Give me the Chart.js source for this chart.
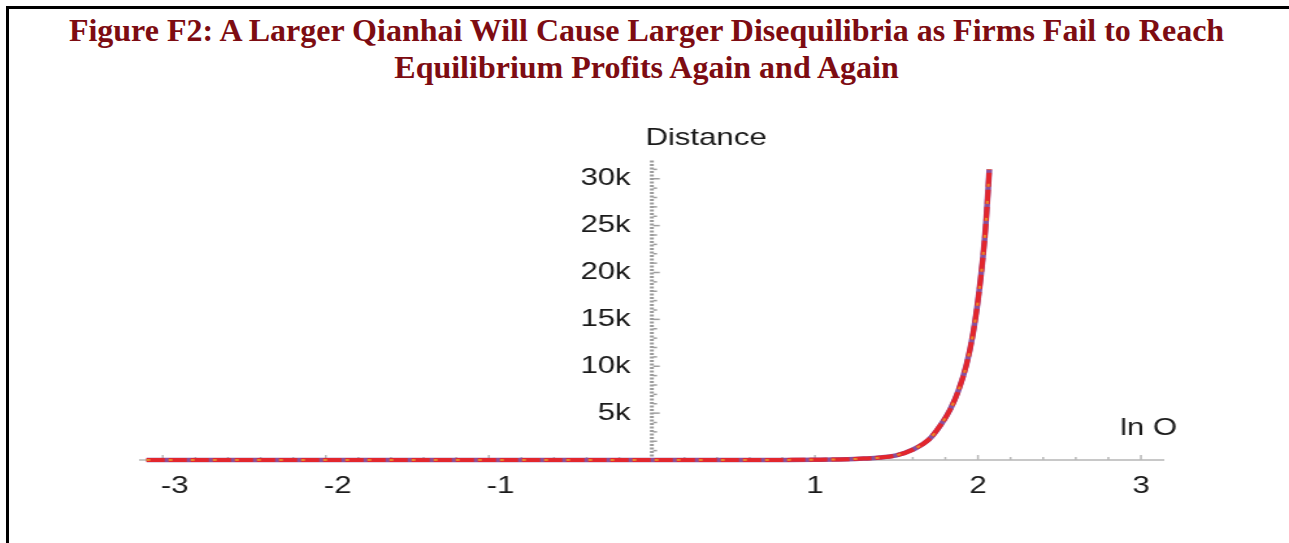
<!DOCTYPE html>
<html>
<head>
<meta charset="utf-8">
<script src="https://cdn.jsdelivr.net/npm/chart.js@4/dist/chart.umd.min.js"></script>
<style>
    html, body { margin: 0; padding: 0; background: #fff; width: 1289px; height: 543px; overflow: hidden; }
    #frame { position: absolute; left: 6px; top: 6px; right: -10px; bottom: -10px; border-top: 3px solid #000; border-left: 3px solid #000; }
    #title { position: absolute; left: 0; top: 12px; width: 1293px; text-align: center; font-family: "Liberation Serif", "Times New Roman", serif; font-weight: bold; font-size: 32px; line-height: 37px; color: #7d0c12; }
    #wrap { position: absolute; left: 0; top: 100px; width: 992px; height: 443px; transform: scaleX(1.2994); transform-origin: 0 0; }
</style>
</head>
<body>
<div id="frame"></div>
<div id="title">Figure F2: A Larger Qianhai Will Cause Larger Disequilibria as Firms Fail to Reach<br>Equilibrium Profits Again and Again</div>
<div id="wrap"><canvas id="chart"></canvas></div>
<script>
// values
const LN_O = [-3.1, -2.5, -2, -1.5, -1, -0.5, 0, 0.5, 0.8, 1.0, 1.2, 1.3, 1.4, 1.5, 1.6, 1.7, 1.77, 1.83, 1.88, 1.93, 1.97, 2.0, 2.03, 2.05, 2.07];
const DISTANCE = [0, 0, 0, 0, 0, 0, 0, 0, 10, 30, 80, 150, 260, 500, 1100, 2200, 3700, 5400, 7400, 10200, 13500, 17000, 21500, 25500, 31000];
const X_TICKS = [-3, -2, -1, 1, 2, 3];
const Y_TICKS = [5000, 10000, 15000, 20000, 25000, 30000];
const Y_LABELS = ['5k', '10k', '15k', '20k', '25k', '30k'];

const points = LN_O.map((v, i) => ({ x: v, y: DISTANCE[i] }));
const tickFont = { family: 'Liberation Sans', size: 24 };

const axisDecor = {
    id: 'axisDecor',
    beforeDatasetsDraw(chart) {
        const { ctx, chartArea, scales: { x, y } } = chart;
        const x0 = x.getPixelForValue(0), y0 = y.getPixelForValue(0);
        ctx.save();
        // dotted vertical axis
        ctx.strokeStyle = '#9c9c9c';
        ctx.lineWidth = 3;
        ctx.setLineDash([2, 1.5]);
        ctx.beginPath(); ctx.moveTo(x0, y0); ctx.lineTo(x0, chartArea.top); ctx.stroke();
        ctx.setLineDash([]);
        ctx.strokeStyle = '#b8b8b8';
        ctx.lineWidth = 1.5;
        for (let v = -30; v <= 30; v += 2) {
            if (v === 0) continue;
            const px = x.getPixelForValue(v / 10);
            const len = v % 10 === 0 ? 5 : 3;
            ctx.beginPath(); ctx.moveTo(px, y0); ctx.lineTo(px, y0 - len); ctx.stroke();
        }
        ctx.strokeStyle = '#a0a0a0';
        for (let v = 1000; v <= 31000; v += 1000) {
            const py = y.getPixelForValue(v);
            const len = v % 5000 === 0 ? 5 : 3;
            ctx.beginPath(); ctx.moveTo(x0 + 1, py); ctx.lineTo(x0 + 1 + len, py); ctx.stroke();
        }
        ctx.restore();
    },
    afterDraw(chart) {
        const { ctx, chartArea, scales: { x, y } } = chart;
        ctx.save();
        ctx.fillStyle = '#1a1a1a';
        ctx.font = '24px "Liberation Sans"';
        ctx.textBaseline = 'middle';
        ctx.textAlign = 'left';
        ctx.fillText('Distance', x.getPixelForValue(0) - 5, chartArea.top - 22);
        ctx.fillText('ln O', chartArea.right - 33, y.getPixelForValue(0) - 32);
        ctx.restore();
    }
};

new Chart(document.getElementById('chart'), {
    type: 'line',
    data: {
        datasets: [
            { data: points, borderColor: '#e8862a', borderWidth: 2, borderDash: [3, 14], pointRadius: 0, cubicInterpolationMode: 'monotone', clip: false, order: 1 },
            { data: points, borderColor: '#e2262d', borderWidth: 4, borderDash: [14, 3], pointRadius: 0, cubicInterpolationMode: 'monotone', clip: false, order: 2 },
            { data: points, borderColor: '#8a4f9c', borderWidth: 4.5, pointRadius: 0, cubicInterpolationMode: 'monotone', clip: false, order: 3 }
        ]
    },
    options: {
        responsive: true,
        maintainAspectRatio: false,
        animation: false,
        layout: { padding: { left: 107.7, right: 97, top: 60, bottom: 83 } },
        plugins: { legend: { display: false }, tooltip: { enabled: false } },
        scales: {
            x: {
                type: 'linear', min: -3.14, max: 3.135,
                position: { y: 0 },
                grid: { display: false, drawTicks: false },
                border: { display: true, color: '#c8c8c8', width: 2 },
                afterBuildTicks: s => { s.ticks = X_TICKS.map(v => ({ value: v })); },
                ticks: { autoSkip: false, maxRotation: 0, font: tickFont, color: '#1a1a1a', padding: 12,
                         callback: v => v < 0 ? '\u2007\u2009' + v : String(v) }
            },
            y: {
                min: 0, max: 32000,
                position: { x: -0.13 },
                grid: { display: false, drawTicks: false },
                border: { display: false },
                afterBuildTicks: s => { s.ticks = Y_TICKS.map(v => ({ value: v })); },
                ticks: { autoSkip: false, font: tickFont, color: '#1a1a1a', callback: v => Y_LABELS[Y_TICKS.indexOf(v)] }
            }
        }
    },
    plugins: [axisDecor]
});
</script>
</body>
</html>
